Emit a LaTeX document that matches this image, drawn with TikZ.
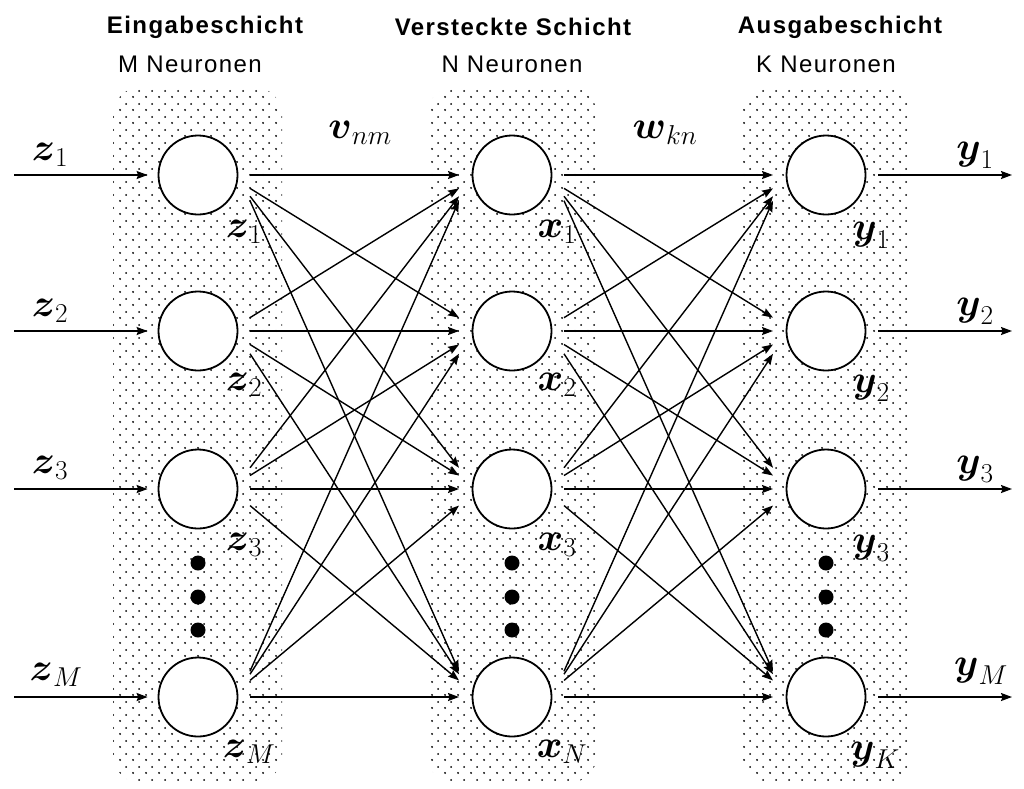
\RequirePackage{fix-cm}
\documentclass[tikz,border=0pt]{standalone}
\usepackage[no-math]{fontspec}
\usepackage{amsmath,amssymb}
\newfontfamily\titlefont{Liberation Sans}[LetterSpace=6]
\usetikzlibrary{arrows.meta,patterns.meta,calc}

\tikzdeclarepattern{
  name=dotgrid,
  type=uncolored,
  bounding box={(0pt,0pt) and (13pt,13pt)},
  tile size={(13pt,13pt)},
  code={
    \pgfpathcircle{\pgfpoint{3.25pt}{3.25pt}}{1.1pt}
    \pgfpathcircle{\pgfpoint{9.75pt}{9.75pt}}{1.1pt}
    \pgfusepath{fill}
  }
}

\begin{document}
\begin{tikzpicture}[x=1pt,y=-1pt,
  neuron/.style={circle,draw,line width=1.8pt,minimum size=79pt,inner sep=0pt,fill=white},
  conn/.style={line width=1.4pt,-{Stealth[length=11pt,width=8pt,inset=1.5pt]}},
  io/.style={line width=1.4pt,-{Stealth[length=11pt,width=8pt,inset=1.5pt]}},
  lbl/.style={inner sep=0pt,font=\fontsize{39}{42}\selectfont},
  ttl/.style={inner sep=0pt,font=\titlefont\bfseries\fontsize{24}{27}\selectfont},
  sub/.style={inner sep=0pt,font=\titlefont\fontsize{24}{27}\selectfont},
  layerbg/.style={pattern=dotgrid,pattern color=black,rounded corners=28pt},
  bigdot/.style={circle,fill,inner sep=0pt,minimum size=15pt}]
\useasboundingbox (0,0) rectangle (1024,788);

% layer backgrounds
\fill[layerbg] (113,87) rectangle (282,783);
\fill[layerbg] (427,87) rectangle (597,783);
\fill[layerbg] (741,87) rectangle (911,783);

% titles
\node[ttl] (t1) at (205,27) {Eingabeschicht};
\node[sub] (s1) at (190,64) {M Neuronen};
\node[ttl] (t2) at (513,27) {Versteckte Schicht};
\node[sub] (s2) at (512,64) {N Neuronen};
\node[ttl] (t3) at (840,27) {Ausgabeschicht};
\node[sub] (s3) at (826,64) {K Neuronen};

% neurons
\foreach \r/\yy in {1/175,2/331,3/489,4/697}{
  \node[neuron] (z\r) at (198,\yy) {};
  \node[neuron] (x\r) at (512,\yy) {};
  \node[neuron] (y\r) at (826,\yy) {};
  \coordinate (in\r) at (14,\yy);
  \coordinate (out\r) at (1012,\yy);
  \draw[io,shorten >=10pt] (in\r) -- (z\r);
  \draw[io,shorten <=12pt] (y\r) -- (out\r);
}

% connections
\foreach \i in {1,2,3,4}{
  \foreach \j in {1,2,3,4}{
    \draw[conn] let \p1=(z\i), \p2=(x\j), \n1={atan2(\y2-\y1,\x2-\x1)} in
      ({\x1+52pt},{\y1+30pt*sin(\n1)}) -- ({\x2-53pt},{\y2-30pt*sin(\n1)});
    \draw[conn] let \p1=(x\i), \p2=(y\j), \n1={atan2(\y2-\y1,\x2-\x1)} in
      ({\x1+52pt},{\y1+30pt*sin(\n1)}) -- ({\x2-53pt},{\y2-30pt*sin(\n1)});
  }
}

% ellipsis dots
\foreach \c/\xx in {a/198,b/512,c/826}{
  \node[bigdot] (\c1) at (\xx,563) {};
  \node[bigdot] (\c2) at (\xx,597) {};
  \node[bigdot] (\c3) at (\xx,630) {};
}

% weight labels
\node[lbl] (vnm) at (360,133) {$\boldsymbol{v}_{nm}$};
\node[lbl] (wkn) at (665,133) {$\boldsymbol{w}_{kn}$};

% input labels
\node[lbl] (li1) at (50,155) {$\boldsymbol{z}_1$};
\node[lbl] (li2) at (50,311) {$\boldsymbol{z}_2$};
\node[lbl] (li3) at (50,468) {$\boldsymbol{z}_3$};
\node[lbl] (li4) at (56,675) {$\boldsymbol{z}_M$};

% output labels
\node[lbl] (lo1) at (975,155) {$\boldsymbol{y}_1$};
\node[lbl] (lo2) at (975,311) {$\boldsymbol{y}_2$};
\node[lbl] (lo3) at (975,469) {$\boldsymbol{y}_3$};
\node[lbl] (lo4) at (981,671) {$\boldsymbol{y}_M$};

% node labels
\node[lbl] (lz1) at (244,232) {$\boldsymbol{z}_1$};
\node[lbl] (lz2) at (244,385) {$\boldsymbol{z}_2$};
\node[lbl] (lz3) at (244,545) {$\boldsymbol{z}_3$};
\node[lbl] (lz4) at (249,752) {$\boldsymbol{z}_M$};
\node[lbl] (lx1) at (557,232) {$\boldsymbol{x}_1$};
\node[lbl] (lx2) at (557,385) {$\boldsymbol{x}_2$};
\node[lbl] (lx3) at (557,545) {$\boldsymbol{x}_3$};
\node[lbl] (lx4) at (562,752) {$\boldsymbol{x}_N$};
\node[lbl] (ly1) at (871,235) {$\boldsymbol{y}_1$};
\node[lbl] (ly2) at (871,388) {$\boldsymbol{y}_2$};
\node[lbl] (ly3) at (871,548) {$\boldsymbol{y}_3$};
\node[lbl] (ly4) at (875,755) {$\boldsymbol{y}_K$};
\end{tikzpicture}
\end{document}
